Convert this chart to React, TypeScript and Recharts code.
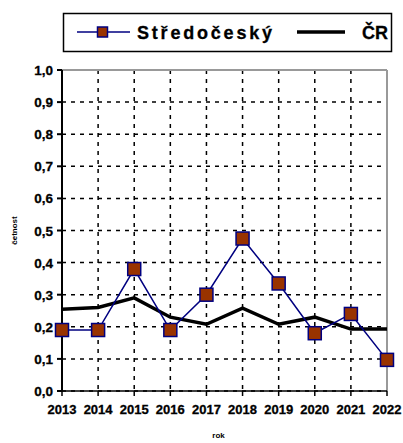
import React from "react";
import {
  LineChart,
  Line,
  XAxis,
  YAxis,
  CartesianGrid,
  ReferenceLine,
} from "recharts";

const roky = ["2013", "2014", "2015", "2016", "2017", "2018", "2019", "2020", "2021", "2022"];
const stredocesky = [0.19, 0.19, 0.38, 0.19, 0.3, 0.475, 0.335, 0.18, 0.24, 0.097];
const cr = [0.255, 0.26, 0.29, 0.23, 0.208, 0.258, 0.208, 0.23, 0.193, 0.193];
const yTicks = [0, 0.1, 0.2, 0.3, 0.4, 0.5, 0.6, 0.7, 0.8, 0.9, 1.0];

const data = roky.map((rok, i) => ({ rok, stredocesky: stredocesky[i], cr: cr[i] }));

const FONT = "Liberation Sans, Arial, sans-serif";
const BROWN = "#993300";
const NAVY = "#000080";

const boldText = { fontFamily: FONT, fontWeight: 700 };

// ctvercovy marker jako v Excelu
const SquareDot = (props: any) => {
  const { cx, cy } = props;
  if (cx == null || cy == null) return null;
  const s = 13;
  return (
    <rect
      x={cx - s / 2}
      y={cy - s / 2}
      width={s}
      height={s}
      fill={BROWN}
      stroke={NAVY}
      strokeWidth={1.5}
    />
  );
};

const XTick = (props: any) => {
  const { x, y, payload } = props;
  return (
    <text x={x} y={y + 16} textAnchor="middle" style={{ ...boldText, fontSize: 13 }} fill="#000" stroke="#000" strokeWidth={0.3}>
      {payload.value}
    </text>
  );
};

const YTick = (props: any) => {
  const { x, y, payload } = props;
  return (
    <text x={x - 2} y={y + 5} textAnchor="end" style={{ ...boldText, fontSize: 13.5 }} fill="#000" stroke="#000" strokeWidth={0.3}>
      {payload.value.toFixed(1).replace(".", ",")}
    </text>
  );
};

const YLabel = (props: any) => {
  const { viewBox } = props;
  const cy = viewBox.y + viewBox.height / 2;
  return (
    <text x={17} y={cy} textAnchor="middle" transform={`rotate(-90 17 ${cy})`} style={{ ...boldText, fontSize: 8 }} fill="#000">
      četnost
    </text>
  );
};

const XLabel = (props: any) => {
  const { viewBox } = props;
  const cx = viewBox.x + viewBox.width / 2 - 6;
  return (
    <text x={cx} y={438} textAnchor="middle" style={{ ...boldText, fontSize: 8 }} fill="#000">
      rok
    </text>
  );
};

const LegendBox = () => (
  <svg width={403} height={60} style={{ position: "absolute", left: 0, top: 0 }}>
    <rect x={63.5} y={13.5} width={328} height={38} fill="#fff" stroke="#000" strokeWidth={1.5} />
    <line x1={77} y1={32} x2={130} y2={32} stroke={NAVY} strokeWidth={1.5} />
    <rect x={97.5} y={27} width={10} height={10} fill={BROWN} stroke={NAVY} strokeWidth={1.5} />
    <text x={137} y={38.5} textLength={135} lengthAdjust="spacing" style={{ ...boldText, fontSize: 18 }} fill="#000" stroke="#000" strokeWidth={0.3}>
      Středočeský
    </text>
    <line x1={297} y1={32} x2={345} y2={32} stroke="#000" strokeWidth={3.5} />
    <text x={362} y={38.5} style={{ ...boldText, fontSize: 18 }} fill="#000" stroke="#000" strokeWidth={0.3}>
      ČR
    </text>
  </svg>
);

export default function App() {
  return (
    <div style={{ position: "absolute", left: 0, top: 0, width: 403, height: 443, background: "#fff" }}>
      <LineChart
        width={403}
        height={443}
        data={data}
        margin={{ top: 70, right: 16, left: 10, bottom: 22 }}
      >
        <CartesianGrid stroke="#000" strokeDasharray="4 5" strokeWidth={1.5} />
        <XAxis
          dataKey="rok"
          stroke="#000"
          strokeWidth={1.5}
          tickSize={5}
          height={30}
          tick={<XTick />}
          interval={0}
          label={<XLabel />}
        />
        <YAxis
          domain={[0, 1]}
          ticks={yTicks}
          stroke="#000"
          strokeWidth={2}
          tickSize={5}
          width={52}
          tick={<YTick />}
          label={<YLabel />}
        />
        <ReferenceLine y={1} stroke="#999" strokeWidth={2} />
        <ReferenceLine x="2022" stroke="#999" strokeWidth={2} />
        <Line
          dataKey="cr"
          stroke="#000"
          strokeWidth={3.5}
          dot={false}
          isAnimationActive={false}
        />
        <Line
          dataKey="stredocesky"
          stroke={NAVY}
          strokeWidth={1.5}
          dot={<SquareDot />}
          isAnimationActive={false}
        />
      </LineChart>
      <LegendBox />
    </div>
  );
}
